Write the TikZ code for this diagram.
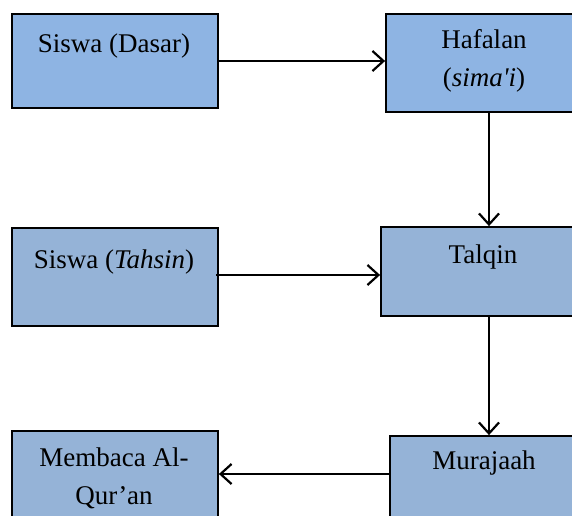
\documentclass[tikz,border=0pt]{standalone}
\usepackage{fontspec}
\setmainfont{Liberation Serif}
\usetikzlibrary{arrows.meta}
\definecolor{boxA}{HTML}{8EB4E3}
\definecolor{boxB}{HTML}{95B3D7}
\tikzset{
  box/.style={draw=black, line width=1.8pt, inner sep=0pt},
  lbl/.style={font=\fontsize{27}{38}\selectfont, align=center, inner sep=0pt},
  arr/.style={draw=black, line width=2.2pt, -{Straight Barb[length=11pt,width=20pt,line width=2.2pt]}}
}
\begin{document}
\begin{tikzpicture}[x=1pt,y=1pt]
\useasboundingbox (0,0) rectangle (572,-515);
\clip (0,0) rectangle (572,-515);
% boxes
\node[box, fill=boxA, minimum width=206pt, minimum height=94pt] (dasar) at (115,-61) {};
\node[box, fill=boxA, minimum width=204pt, minimum height=98pt] (haf) at (488,-63) {};
\node[box, fill=boxB, minimum width=206pt, minimum height=98pt] (tahsin) at (115,-277) {};
\node[box, fill=boxB, minimum width=209pt, minimum height=89pt] (talqin) at (485.5,-271.5) {};
\node[box, fill=boxB, minimum width=206pt, minimum height=99pt] (baca) at (115,-480.5) {};
\node[box, fill=boxB, minimum width=200pt, minimum height=94pt] (muraj) at (490,-483) {};
% texts
\node[lbl] (tdasar) at (114,-46) {Siswa (Dasar)};
\node[lbl] (thaf) at (484,-61) {Hafalan\\(\textit{sima\textquotesingle i})};
\node[lbl] (ttahsin) at (114,-262) {Siswa (\textit{Tahsin})};
\node[lbl] (ttalqin) at (483,-257) {Talqin};
\node[lbl] (tbaca) at (114,-478) {Membaca Al-\\Qur’an};
\node[lbl] (tmuraj) at (484,-463) {Murajaah};
% connectors
\coordinate (vx) at (489,0);
\coordinate (ya) at (0,-61);
\coordinate (yb) at (0,-275);
\coordinate (yc) at (0,-474);
\draw[arr] (dasar.east |- ya) -- (haf.west |- ya);
\draw[arr] (haf.south -| vx) -- (talqin.north -| vx);
\draw[arr] ([xshift=-3pt]tahsin.east |- yb) -- (talqin.west |- yb);
\draw[arr] (talqin.south -| vx) -- (muraj.north -| vx);
\draw[arr] (muraj.west |- yc) -- (baca.east |- yc);
\end{tikzpicture}
\end{document}
